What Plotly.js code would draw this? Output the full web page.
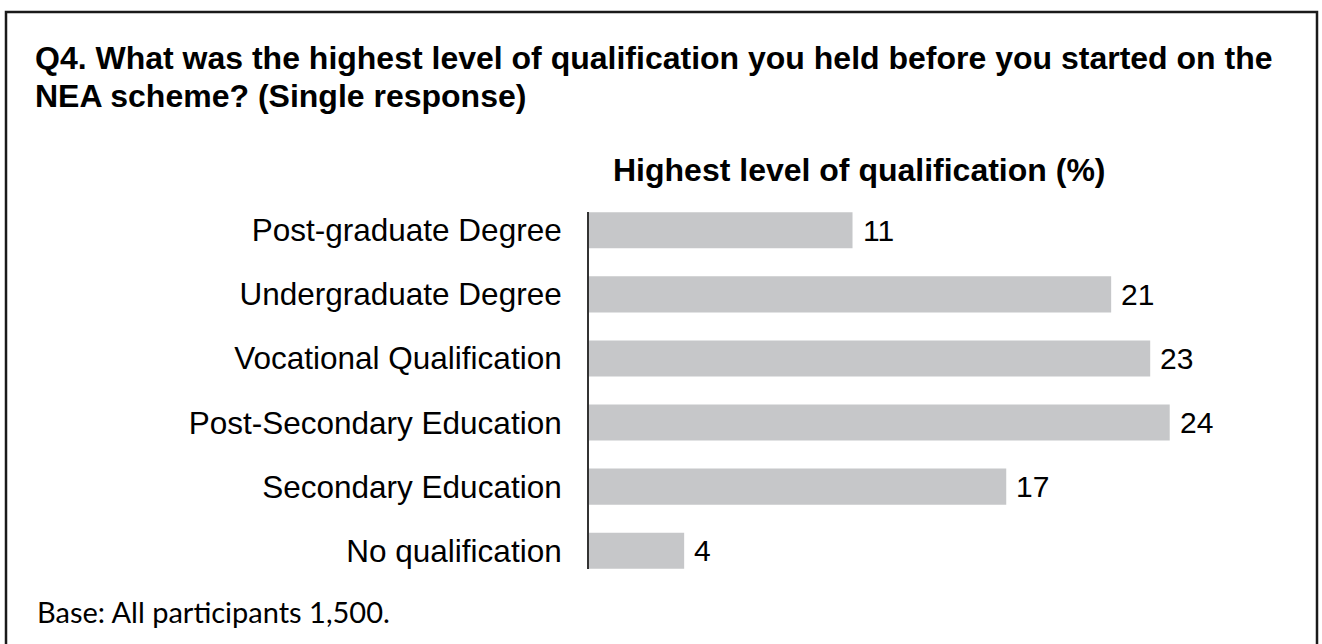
<!DOCTYPE html>
<html>
<head>
<meta charset="utf-8">
<script src="https://cdn.plot.ly/plotly-3.0.1.min.js"></script>
<style>html,body{margin:0;padding:0;background:#fff;}#chart{width:1322px;height:644px;}</style>
</head>
<body>
<div id="chart"></div>
<script>
const categories = [
  "Post-graduate Degree",
  "Undergraduate Degree",
  "Vocational Qualification",
  "Post-Secondary Education",
  "Secondary Education",
  "No qualification"
];
// bar lengths (percent, unrounded estimates)
const values = [10.8, 21.4, 23.0, 23.8, 17.1, 3.9];
// value labels as printed on the chart
const valueLabels = ["11", "21", "23", "24", "17", "4"];
const chartTitle = "Highest level of qualification (%)";
const questionLines = [
  "Q4. What was the highest level of qualification you held before you started on the",
  "NEA scheme? (Single response)"
];
const baseNote = "Base: All participants 1,500.";

const FIG_W = 1322, FIG_H = 644;
const L = 589, R = 1, T = 212, B = 75;
const PW = FIG_W - L - R, PH = FIG_H - T - B;
const px2x = p => (p - L) / PW;
const py2y = p => (FIG_H - B - p) / PH;

const ARIAL = "Liberation Sans, Arial, sans-serif";

const annotations = [];
questionLines.forEach((line, i) => {
  annotations.push({
    xref: "paper", yref: "paper",
    x: px2x(33), y: py2y([58, 96][i]),
    xanchor: "left", yanchor: "middle",
    text: "<b>" + line + "</b>", showarrow: false,
    font: {family: ARIAL, size: 32, color: "#000"}
  });
});
annotations.push({
  xref: "paper", yref: "paper",
  x: px2x(859), y: py2y(170),
  xanchor: "center", yanchor: "middle",
  text: "<b>" + chartTitle + "</b>", showarrow: false,
  font: {family: ARIAL, size: 32, color: "#000"}
});
annotations.push({
  xref: "paper", yref: "paper",
  x: px2x(35), y: py2y(611),
  xanchor: "left", yanchor: "middle",
  text: baseNote, showarrow: false,
  font: {family: "Lato, Open Sans, sans-serif", size: 29, color: "#000"}
});
values.forEach((v, i) => {
  annotations.push({
    xref: "x", yref: "y",
    x: v, y: categories[i],
    xanchor: "left", yanchor: "middle", xshift: 8,
    text: valueLabels[i], showarrow: false,
    font: {family: ARIAL, size: 30, color: "#000"}
  });
});

const data = [{
  type: "bar",
  orientation: "h",
  y: categories,
  x: values,
  marker: {color: "#c6c7c9", line: {width: 0}},
  hoverinfo: "skip"
}];

const layout = {
  width: FIG_W, height: FIG_H,
  margin: {l: L, r: R, t: T, b: B, pad: 0},
  paper_bgcolor: "#fff", plot_bgcolor: "#fff",
  showlegend: false,
  bargap: 0.4375,
  xaxis: {
    range: [0, 30], visible: false, fixedrange: true
  },
  yaxis: {
    type: "category",
    categoryorder: "array", categoryarray: categories,
    range: [5.285, -0.285],
    showline: true, linecolor: "#333", linewidth: 2,
    showgrid: false, zeroline: false, ticks: "",
    ticklabelstandoff: 19,
    tickfont: {family: ARIAL, size: 31.5, color: "#000"},
    fixedrange: true
  },
  annotations: annotations,
  shapes: [{
    type: "rect", xref: "paper", yref: "paper",
    x0: px2x(6), x1: px2x(1317), y0: py2y(700), y1: py2y(12),
    line: {color: "#1a1a1a", width: 2.5}, fillcolor: "rgba(0,0,0,0)", layer: "above"
  }]
};

Plotly.newPlot("chart", data, layout, {staticPlot: true, displayModeBar: false});
</script>
</body>
</html>
